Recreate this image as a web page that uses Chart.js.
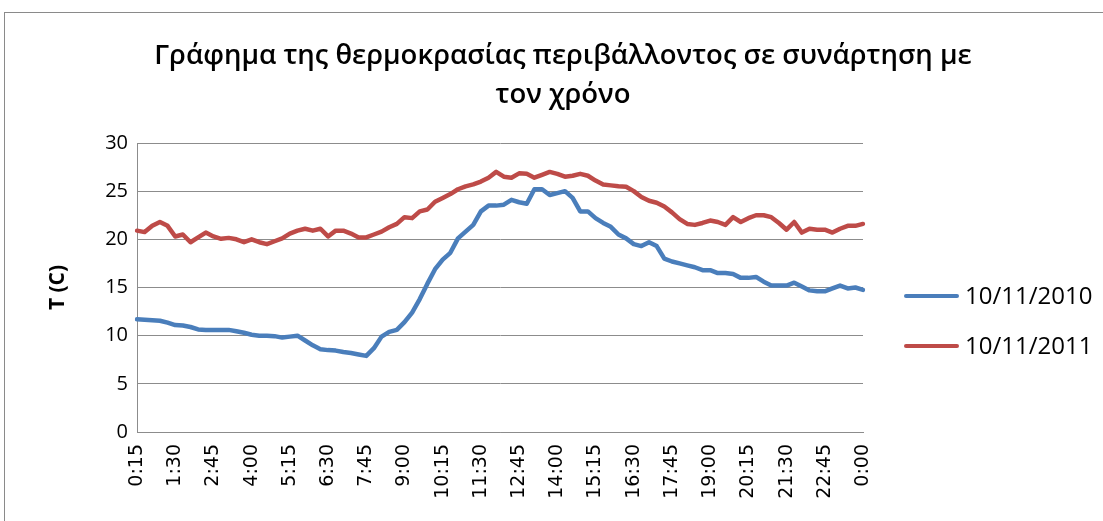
<!DOCTYPE html>
<html>
<head>
<meta charset="utf-8">
<script src="https://cdn.jsdelivr.net/npm/chart.js@4.4.1/dist/chart.umd.min.js"></script>
<style>
  html, body { margin: 0; padding: 0; background: #fff; }
  #wrap { position: relative; width: 1103px; height: 521px; overflow: hidden; }
  #frame { position: absolute; left: 4px; top: 12px; width: 1200px; height: 600px;
           border-left: 1px solid #8a8a8a; border-top: 1px solid #8a8a8a; }
  canvas { position: absolute; left: 0; top: 0; }
  .lg { position: absolute; left: 904px; font-family: "Open Sans", sans-serif; font-size: 24px; color: #000; }
  .lg .sw { position: absolute; left: 0; width: 55px; height: 4px; border-radius: 2px; }
  .lg .tx { position: absolute; left: 61px; white-space: nowrap; line-height: 30px; }
</style>
</head>
<body>
<div id="wrap">
  <div id="frame"></div>
  <canvas id="c" width="1103" height="521"></canvas>
  <div id="legend"></div>
</div>
<script>
const titleLines = ["Γράφημα της θερμοκρασίας περιβάλλοντος σε συνάρτηση με", "τον χρόνο"];
const yAxisTitle = "T (C)";
const seriesNames = ["10/11/2010", "10/11/2011"];
const seriesColors = ["#4A7EBB", "#BE4B48"];

const timeLabels = ["0:15","0:30","0:45","1:00","1:15","1:30","1:45","2:00","2:15","2:30","2:45","3:00","3:15","3:30","3:45","4:00","4:15","4:30","4:45","5:00","5:15","5:30","5:45","6:00","6:15","6:30","6:45","7:00","7:15","7:30","7:45","8:00","8:15","8:30","8:45","9:00","9:15","9:30","9:45","10:00","10:15","10:30","10:45","11:00","11:15","11:30","11:45","12:00","12:15","12:30","12:45","13:00","13:15","13:30","13:45","14:00","14:15","14:30","14:45","15:00","15:15","15:30","15:45","16:00","16:15","16:30","16:45","17:00","17:15","17:30","17:45","18:00","18:15","18:30","18:45","19:00","19:15","19:30","19:45","20:00","20:15","20:30","20:45","21:00","21:15","21:30","21:45","22:00","22:15","22:30","22:45","23:00","23:15","23:30","23:45","0:00"];

const shownTickLabels = ["0:15","1:30","2:45","4:00","5:15","6:30","7:45","9:00","10:15","11:30","12:45","14:00","15:15","16:30","17:45","19:00","20:15","21:30","22:45","0:00"];

const yTicks = [0, 5, 10, 15, 20, 25, 30];

const temp2010 = [11.7,11.65,11.6,11.55,11.35,11.1,11.05,10.9,10.65,10.6,
  10.6,10.6,10.6,10.45,10.3,10.1,10.0,10.0,9.95,9.8,
  9.9,10.0,9.5,9.0,8.6,8.5,8.45,8.3,8.2,8.05,
  7.9,8.7,9.9,10.4,10.6,11.4,12.4,13.8,15.4,16.9,
  17.9,18.6,20.1,20.8,21.5,22.9,23.5,23.5,23.6,24.1,
  23.85,23.7,25.2,25.2,24.6,24.8,25.0,24.3,22.9,22.9,
  22.2,21.7,21.3,20.5,20.1,19.5,19.3,19.7,19.3,18.0,
  17.7,17.5,17.3,17.1,16.8,16.8,16.5,16.5,16.4,16.0,
  16.0,16.1,15.6,15.2,15.2,15.2,15.5,15.1,14.7,14.6,
  14.6,14.9,15.2,14.9,15.0,14.75];

const temp2011 = [20.9,20.75,21.4,21.8,21.4,20.3,20.5,19.7,20.2,20.7,
  20.3,20.05,20.15,20.0,19.7,20.0,19.7,19.5,19.8,20.1,
  20.6,20.9,21.1,20.9,21.1,20.3,20.9,20.9,20.6,20.2,
  20.2,20.5,20.8,21.25,21.6,22.3,22.2,22.9,23.1,23.9,
  24.3,24.7,25.2,25.5,25.7,26.0,26.4,27.0,26.5,26.4,
  26.85,26.8,26.4,26.7,27.0,26.8,26.5,26.6,26.8,26.6,
  26.1,25.7,25.6,25.5,25.45,25.0,24.4,24.0,23.8,23.4,
  22.8,22.1,21.6,21.5,21.7,21.95,21.8,21.5,22.3,21.8,
  22.2,22.5,22.5,22.3,21.7,21.0,21.8,20.7,21.1,21.0,
  21.0,20.7,21.1,21.4,21.4,21.6];

const gridColor = "#8c8c8c";

// HTML legend
const legendEl = document.getElementById("legend");
const legendTops = [296, 346];
seriesNames.forEach((name, i) => {
  const item = document.createElement("div");
  item.className = "lg";
  item.style.top = legendTops[i] + "px";
  const sw = document.createElement("div");
  sw.className = "sw";
  sw.style.top = "-2px";
  sw.style.background = seriesColors[i];
  const tx = document.createElement("div");
  tx.className = "tx";
  tx.style.top = "-16px";
  tx.textContent = name;
  item.appendChild(sw);
  item.appendChild(tx);
  legendEl.appendChild(item);
});

new Chart(document.getElementById("c"), {
  type: "line",
  data: {
    labels: timeLabels,
    datasets: [
      { label: seriesNames[0], data: temp2010, borderColor: seriesColors[0], backgroundColor: seriesColors[0],
        borderWidth: 4.5, pointRadius: 0, tension: 0, borderJoinStyle: "round", borderCapStyle: "round" },
      { label: seriesNames[1], data: temp2011, borderColor: seriesColors[1], backgroundColor: seriesColors[1],
        borderWidth: 4.5, pointRadius: 0, tension: 0, borderJoinStyle: "round", borderCapStyle: "round" }
    ]
  },
  options: {
    responsive: false,
    animation: false,
    layout: { padding: { left: 23, right: 0, top: 0, bottom: 0 } },
    plugins: {
      legend: { display: false },
      tooltip: { enabled: false },
      title: {
        display: true,
        text: titleLines,
        color: "#000",
        font: { family: "'Open Sans', sans-serif", size: 27.5, weight: "600", lineHeight: "39px" },
        padding: { top: 37, bottom: 28 }
      }
    },
    scales: {
      x: {
        offset: false,
        grid: { display: false, drawTicks: false },
        border: { display: true, color: gridColor, width: 1 },
        ticks: {
          autoSkip: false, minRotation: 90, maxRotation: 90, padding: 12,
          color: "#000",
          font: { family: "'DejaVu Sans', sans-serif", size: 19 },
          callback: function(v, i) { const l = timeLabels[i]; return shownTickLabels.includes(l) ? l : ""; }
        },
        afterFit: function(s) { s.height = 89; }
      },
      y: {
        min: 0, max: 30,
        afterBuildTicks: function(s) { s.ticks = yTicks.map(v => ({ value: v })); },
        grid: { color: gridColor, lineWidth: 1, drawTicks: false },
        border: { display: true, color: gridColor, width: 1 },
        ticks: { padding: 9, color: "#000", font: { family: "'Open Sans', sans-serif", size: 20 } },
        title: {
          display: true, text: yAxisTitle, color: "#000",
          font: { family: "'Open Sans', sans-serif", size: 21, weight: "bold", lineHeight: 1.2 },
          padding: { top: 22, bottom: 0 }
        },
        afterFit: function(s) { s.width = 114; }
      },
      yRight: {
        position: "right",
        display: true,
        min: 0, max: 30,
        grid: { display: false, drawTicks: false },
        border: { display: false },
        ticks: { display: false },
        afterFit: function(s) { s.width = 240; }
      }
    }
  }
});
</script>
</body>
</html>
